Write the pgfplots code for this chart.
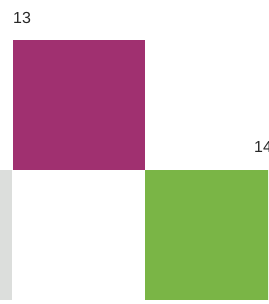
\documentclass[border=0pt]{standalone}
\usepackage{pgfplots}
\pgfplotsset{compat=1.18}
\usepackage{fontspec}
\setmainfont{Liberation Sans}
\definecolor{cpurple}{RGB}{160,48,112}
\definecolor{cgreen}{RGB}{122,181,70}
\definecolor{cgray}{RGB}{220,222,220}
\definecolor{ctext}{RGB}{40,40,40}
\begin{document}
\begin{tikzpicture}
\begin{axis}[
  scale only axis, width=268pt, height=304pt,
  xmin=0, xmax=268, ymin=-4, ymax=300,
  hide axis, clip=true,
]
% gray bar (cut at left)
\addplot[fill=cgray, draw=none] coordinates {(-10,0) (12,0) (12,130) (-10,130)} -- cycle;
% purple floating bar (13)
\addplot[fill=cpurple, draw=none] coordinates {(13,130) (145,130) (145,260) (13,260)} -- cycle;
% green bar (14)
\addplot[fill=cgreen, draw=none] coordinates {(145,0) (280,0) (280,130) (145,130)} -- cycle;
\node[anchor=base west, inner sep=0pt, text=ctext, font=\fontsize{16}{19}\selectfont] at (axis cs:13,276) {13};
\node[anchor=base west, inner sep=0pt, text=ctext, font=\fontsize{16}{19}\selectfont] at (axis cs:254,147) {14};
\path (rel axis cs:0,0) (rel axis cs:1,1);
\end{axis}
\end{tikzpicture}
\end{document}
